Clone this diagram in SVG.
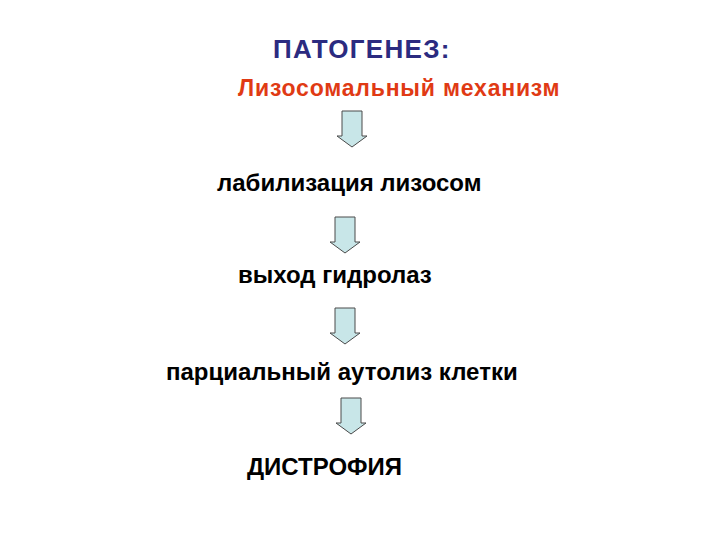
<svg xmlns="http://www.w3.org/2000/svg" width="720" height="540" viewBox="0 0 720 540">
<style>
text{font-family:"Liberation Sans",Arial,sans-serif;font-weight:bold;}
.b{font-size:24px;fill:#000;}
.arr{fill:#c8e6e8;stroke:#4a4a4a;stroke-width:1;}
</style>
<defs>
<path id="ar" class="arr" d="M-10,0 H10 V25 H15 L0,36 L-15,25 H-10 Z"/>
</defs>
<rect width="720" height="540" fill="#fff"/>
<g id="title"><text x="273" y="58" font-size="26" letter-spacing="1.3" fill="#2b2b80">ПАТОГЕНЕЗ:</text></g>
<g id="subtitle"><text x="238" y="96" font-size="23" letter-spacing="0.8" fill="#e03a14">Лизосомальный механизм</text></g>
<g id="n1"><text class="b" x="217" y="191">лабилизация лизосом</text></g>
<g id="n2"><text class="b" x="238" y="283">выход гидролаз</text></g>
<g id="n3"><text class="b" x="166" y="380">парциальный аутолиз клетки</text></g>
<g id="n4"><text class="b" x="247" y="475">ДИСТРОФИЯ</text></g>
<g id="connectors">
<use href="#ar" x="352" y="111"/>
<use href="#ar" x="345" y="217"/>
<use href="#ar" x="345" y="308"/>
<use href="#ar" x="351" y="398"/>
</g>
</svg>
